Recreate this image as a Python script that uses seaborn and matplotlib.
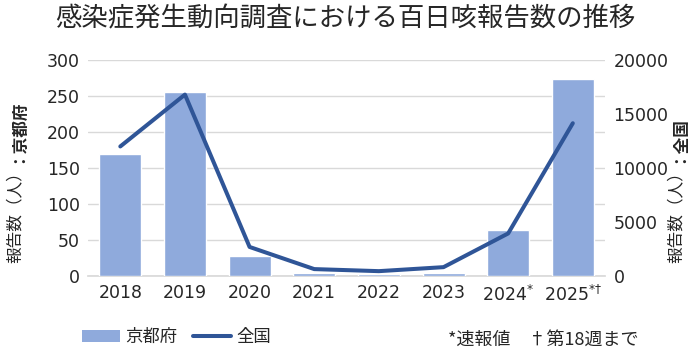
import numpy as np
import pandas as pd
import seaborn as sns
import matplotlib.pyplot as plt
from matplotlib.patches import Patch
from matplotlib.lines import Line2D

# データ
years = ['2018', '2019', '2020', '2021', '2022', '2023', '2024', '2025']
year_labels = ['2018', '2019', '2020', '2021', '2022', '2023',
               '2024$^{*}$', '2025$^{*†}$']
kyoto = [170, 255, 28, 5, 3, 4, 64, 273]
zenkoku = [12000, 16800, 2700, 650, 460, 830, 3950, 14150]

df = pd.DataFrame({'year': years, 'kyoto': kyoto, 'zenkoku': zenkoku})

sns.set_theme(style='white')
plt.rcParams['font.family'] = ['Noto Sans CJK JP', 'DejaVu Sans']
plt.rcParams['mathtext.fontset'] = 'dejavusans'

bar_color = '#8FAADC'
line_color = '#2F5597'
text_color = '#262626'

fig = plt.figure(figsize=(6.9, 3.54), dpi=100, facecolor='white')
ax = fig.add_axes([0.1275, 0.22, 0.7495, 0.6105])

sns.barplot(data=df, x='year', y='kyoto', color=bar_color, width=0.65,
            saturation=1, ax=ax, zorder=3)
ax.set_ylim(0, 300)
ax.set_yticks(range(0, 301, 50))
ax.yaxis.grid(True, color='#D9D9D9', linewidth=1)
ax.set_axisbelow(True)
ax.set_xlabel('')
ax.set_ylabel('')
ax.set_xticks(range(len(years)))
ax.set_xticklabels(year_labels)
for s in ['top', 'right', 'left']:
    ax.spines[s].set_visible(False)
ax.spines['bottom'].set_color('#D9D9D9')
ax.spines['bottom'].set_zorder(1)
ax.tick_params(axis='both', length=0, labelsize=12.5, colors=text_color, pad=6)
for lab in ax.get_xticklabels() + ax.get_yticklabels():
    lab.set_family('DejaVu Sans')

ax2 = ax.twinx()
sns.lineplot(data=df, x='year', y='zenkoku', color=line_color, linewidth=2.9,
             ax=ax2, sort=False)
ax2.set_ylim(0, 20000)
ax2.set_yticks(range(0, 20001, 5000))
ax2.set_ylabel('')
for s in ['top', 'right', 'left', 'bottom']:
    ax2.spines[s].set_visible(False)
ax2.tick_params(axis='y', length=0, labelsize=12.5, colors=text_color, pad=6)
for lab in ax2.get_yticklabels():
    lab.set_family('DejaVu Sans')
ax.set_xlim(-0.5, len(years) - 0.5)

fig.suptitle('感染症発生動向調査における百日咳報告数の推移', x=0.5, y=0.985,
             fontsize=19, color=text_color)

# 軸ラベル（一部太字）
fig.canvas.draw()
r = fig.canvas.get_renderer()
y0 = 1 - 263 / 354
for xpos, bold in [(15 / 690, '：京都府'), (676 / 690, '：全国')]:
    t1 = fig.text(xpos, y0, '報告数（人）', rotation=90, ha='center', va='bottom',
                  fontsize=12, color=text_color)
    bb = t1.get_window_extent(r).transformed(fig.transFigure.inverted())
    fig.text(xpos, bb.y1, bold, rotation=90, ha='center', va='bottom',
             fontsize=12, fontweight='bold', color=text_color)

handles = [Patch(facecolor=bar_color, edgecolor='none', label='京都府'),
           Line2D([0], [0], color=line_color, linewidth=2.9, label='全国')]
fig.legend(handles=handles, loc='center left', bbox_to_anchor=(82 / 690, 1 - 337 / 354),
           ncol=2, frameon=False, fontsize=12.5, handlelength=2.2,
           handletextpad=0.3, columnspacing=0.9, borderpad=0, borderaxespad=0,
           labelcolor=text_color)

fig.text(448 / 690, 1 - 340 / 354, '*速報値\u3000†第18週まで', fontsize=13,
         color=text_color, ha='left', va='center')

plt.savefig('out.png', dpi=100, facecolor='white')
plt.close()
